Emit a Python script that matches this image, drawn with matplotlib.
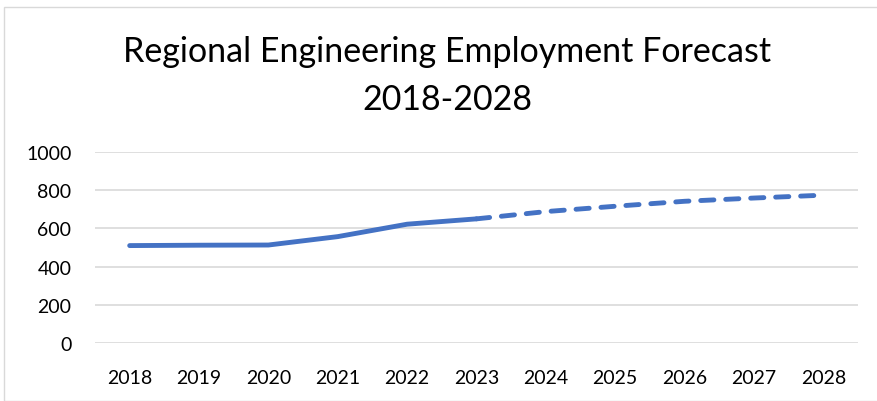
import matplotlib
matplotlib.use("Agg")
import matplotlib.pyplot as plt
from matplotlib.patches import Rectangle

years = ["2018", "2019", "2020", "2021", "2022", "2023", "2024", "2025", "2026", "2027", "2028"]
values = [510, 512, 513, 557, 622, 650, 688, 716, 742, 759, 774]
actual_end = 5  # index of last actual year (2023)
y_ticks = [0, 200, 400, 600, 800, 1000]

plt.rcParams['font.family'] = ['Lato', 'DejaVu Sans']
plt.rcParams['lines.scale_dashes'] = False

fig = plt.figure(figsize=(8.77, 4.02), dpi=100)
fig.patches.append(Rectangle((4/877, 0), 1, (402-8)/402, transform=fig.transFigure,
                             fill=False, edgecolor='#d9d9d9', linewidth=1.0))
ax = fig.add_axes([95/877, 58/402, (858-95)/877, 191/402])

x = list(range(len(years)))
color = '#4472C4'
ax.plot(x[:actual_end+1], values[:actual_end+1], color=color, lw=3.5,
        solid_capstyle='round', solid_joinstyle='round')
ax.plot(x[actual_end:], values[actual_end:], color=color, lw=3.5,
        dashes=(9.5, 8.5), dash_capstyle='round')

ax.set_xlim(-0.5, len(years) - 0.5)
ax.set_ylim(0, 1000)
ax.set_yticks(y_ticks)
ax.set_xticks(x)
ax.set_xticklabels(years)
ax.grid(axis='y', color='#d9d9d9', lw=1.2)
ax.set_axisbelow(True)
for s in ax.spines.values():
    s.set_visible(False)
ax.tick_params(length=0, labelsize=14, colors='black')
ax.tick_params(axis='y', pad=17)
ax.tick_params(axis='x', pad=19)

fig.text(447/877, 1 - 52/402, "Regional Engineering Employment Forecast",
         ha='center', va='center', fontsize=24.5)
fig.text(447/877, 1 - 100/402, "2018-2028", ha='center', va='center', fontsize=24.5)

fig.savefig("out.png", dpi=100)
